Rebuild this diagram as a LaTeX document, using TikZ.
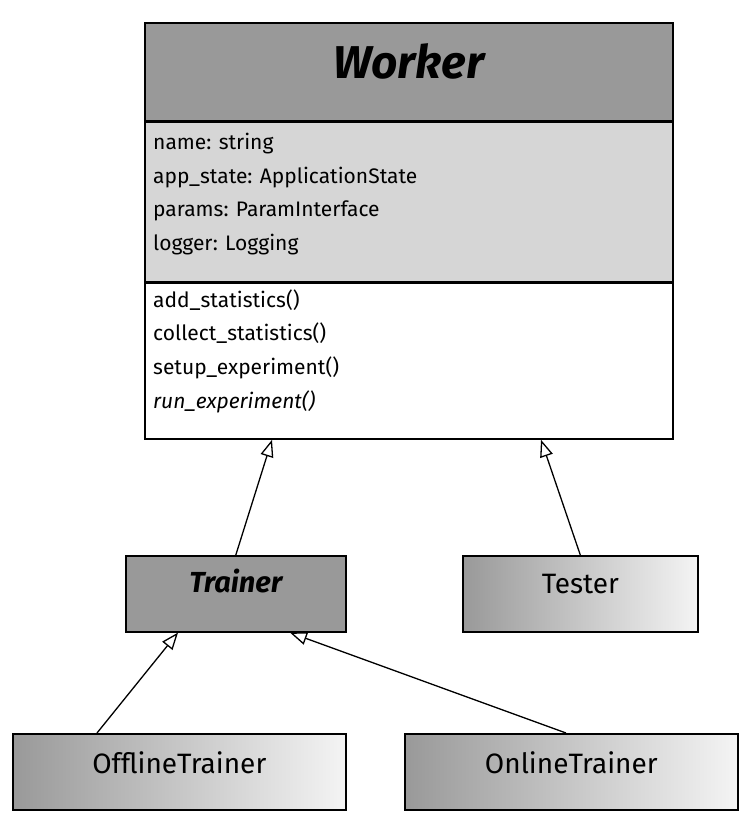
\documentclass[tikz,border=0pt]{standalone}
\usepackage{fontspec}
\setmainfont{Fira Sans}
\usetikzlibrary{arrows.meta,positioning}

\definecolor{headgray}{HTML}{999999}
\definecolor{attrgray}{HTML}{D6D6D6}
\definecolor{fadegray}{HTML}{F4F4F4}

\begin{document}
\begin{tikzpicture}[x=1pt,y=1pt,
    classbox/.style={draw,line width=1.6pt,rectangle,inner sep=0pt,anchor=north west},
    abstractbox/.style={classbox,fill=headgray,font=\fontsize{29}{29}\selectfont\bfseries\itshape},
    concretebox/.style={classbox,left color=headgray,right color=fadegray,font=\fontsize{28}{28}\selectfont},
    membertext/.style={anchor=base west,inner sep=0pt,font=\fontsize{21}{21}\selectfont},
    inherit/.style={-{Triangle[open,length=17pt,width=13pt]},line width=1.3pt}]
    \useasboundingbox (0,0) rectangle (749,-827);

    % the base class
    \node[classbox,fill=headgray,minimum width=528pt,minimum height=98pt,text height=56pt,text depth=42pt,
          font=\fontsize{46}{46}\selectfont\bfseries\itshape] (worker) at (144,-22) {Worker};
    \node[classbox,fill=attrgray,minimum width=528pt,minimum height=159pt] (workerattr) at (worker.south west) {};
    \node[classbox,fill=white,minimum width=528pt,minimum height=156pt] (workerops) at (workerattr.south west) {};

    \foreach \txt [count=\i] in {name: string, app\_state: ApplicationState, params: ParamInterface, logger: Logging}
        \node[membertext] (attr\i) at (153,-149.5-33.5*\i+33.5) {\txt};
    \foreach \txt [count=\i] in {add\_statistics(), collect\_statistics(), setup\_experiment(), {\itshape run\_experiment()}}
        \node[membertext] (op\i) at (153,-307-33.7*\i+33.7) {\txt};

    % derived classes
    \node[abstractbox,minimum width=220pt,minimum height=76pt,text height=37pt,text depth=39pt] (trainer) at (125,-555) {Trainer};
    \node[concretebox,minimum width=235pt,minimum height=76pt,text height=38pt,text depth=38pt] (tester) at (462,-555) {Tester};
    \node[concretebox,minimum width=333pt,minimum height=76pt,text height=40pt,text depth=36pt] (offline) at (12,-733) {OfflineTrainer};
    \node[concretebox,minimum width=333pt,minimum height=76pt,text height=40pt,text depth=36pt] (online) at (404,-733) {OnlineTrainer};

    \draw[inherit] (trainer.north) -- ([xshift=128pt]workerops.south west);
    \draw[inherit] (tester.north) -- ([xshift=397pt]workerops.south west);
    \draw[inherit] ([xshift=85pt]offline.north west) -- ([xshift=53pt]trainer.south west);
    \draw[inherit] ([xshift=162pt]online.north west) -- ([xshift=165pt]trainer.south west);
\end{tikzpicture}
\end{document}
